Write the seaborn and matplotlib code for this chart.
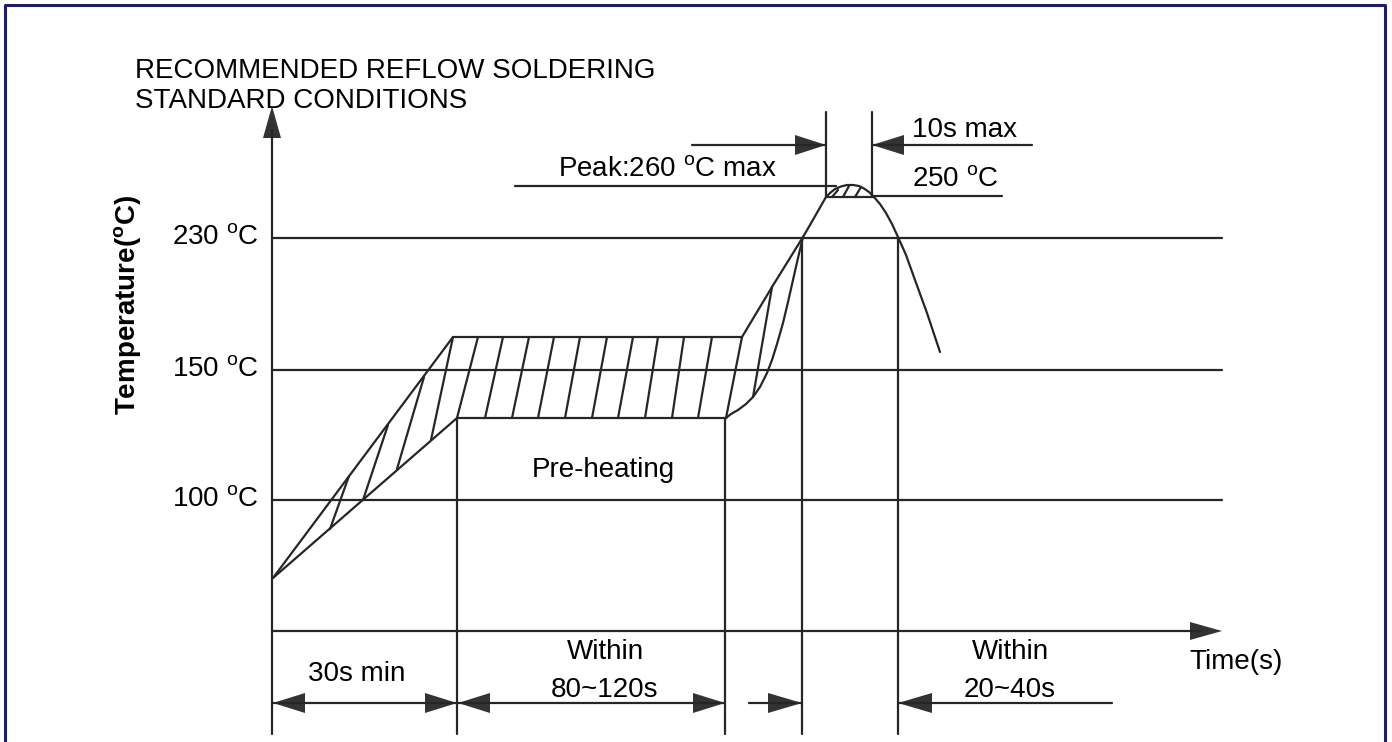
import numpy as np
import pandas as pd
import seaborn as sns
import matplotlib.pyplot as plt

# schematic drawn in picture units (x to the right, y downwards)
level_labels = ["230", "150", "100"]
level_y = [238, 370, 500]

upper_x = [273, 453, 742, 772, 803, 810, 818, 826]
upper_y = [578, 337, 337, 287, 237, 225, 211, 197]
lower_x = [273, 457, 726, 731, 738, 746, 753, 760, 767, 772, 777, 783, 788, 793, 798, 803]
lower_y = [578, 418, 418, 414, 410, 404, 397, 387, 373, 360, 344, 323, 302, 280, 258, 237]
cap_x = [826, 830, 835, 841, 847, 853, 859, 864, 869, 874]
cap_y = [197, 193, 189, 186.5, 185, 185, 186, 188.5, 192, 197]
fall_x = [874, 880, 886, 892, 898, 906, 915, 927, 940]
fall_y = [197, 204, 213, 224, 237, 255, 280, 313, 352]

# hatch strokes (bottom x, bottom y, top x, top y)
ramp_hatch = [(330, 529, 349, 476), (363, 500, 388, 425),
              (397, 469, 424, 377), (431, 440, 453, 337)]
preheat_bottom = [457, 485, 512, 538, 565, 592, 618, 645, 672, 698, 726]
preheat_top = [478, 503, 529, 554, 580, 607, 633, 658, 684, 712, 742]
rise_hatch = [(753, 397, 772, 287)]
cap_hatch = [(832, 197, 838, 190), (843, 197, 849, 186), (855, 197, 861, 187)]

mark_x = [457, 725, 802, 898]
mark_top = [418, 418, 238, 238]

ink = "#262626"
head_col = "#333333"

sns.set_style("white")
plt.rcParams["font.family"] = ["Liberation Sans", "DejaVu Sans"]
plt.rcParams["mathtext.fontset"] = "custom"
plt.rcParams["mathtext.rm"] = "Liberation Sans"
plt.rcParams["mathtext.bf"] = "Liberation Sans:bold"
plt.rcParams["text.color"] = "black"

fig = plt.figure(figsize=(13.92, 7.42), dpi=100)
ax = fig.add_axes([0, 0, 1, 1])

rows = []
def seg(xs, ys):
    k = rows[-1][2] + 1 if rows else 0
    for a, b in zip(xs, ys):
        rows.append((a, b, k))

# axes and guide lines
seg([272, 272], [130, 734])
seg([272, 1200], [631, 631])
for y in level_y:
    seg([272, 1222], [y, y])
for x, t in zip(mark_x, mark_top):
    seg([x, x], [t, 734])
seg([826, 826], [112, 197])
seg([872, 872], [112, 197])

# profile
seg(upper_x, upper_y)
seg(lower_x, lower_y)
seg(cap_x, cap_y)
seg(fall_x, fall_y)
seg([826, 874], [197, 197])
for x0, y0, x1, y1 in ramp_hatch + rise_hatch + cap_hatch:
    seg([x0, x1], [y0, y1])
for b, t in zip(preheat_bottom, preheat_top):
    seg([b, t], [418, 337])

# leader lines
seg([515, 836], [186, 186])
seg([874, 1002], [196, 196])
seg([692, 826], [145, 145])
seg([872, 1032], [145, 145])
seg([273, 457], [703, 703])
seg([458, 725], [703, 703])
seg([749, 802], [703, 703])
seg([898, 1112], [703, 703])

df = pd.DataFrame(rows, columns=["x", "y", "seg"])
sns.lineplot(data=df, x="x", y="y", units="seg", estimator=None, sort=False,
             color=ink, lw=1.6, ax=ax, legend=False)


def head(tx, ty, dx, dy, length=32, half=10):
    bx, by = tx - dx * length, ty - dy * length
    px, py = -dy * half, dx * half
    ax.fill([tx, bx + px, bx - px], [ty, by + py, by - py], color=head_col, lw=0)

head(272, 106, 0, -1, length=32, half=9)
head(1222, 631, 1, 0, length=32, half=9)
head(826, 145, 1, 0, length=31, half=10)
head(872, 145, -1, 0, length=32, half=10)
head(273, 703, -1, 0)
head(457, 703, 1, 0)
head(458, 703, -1, 0)
head(725, 703, 1, 0)
head(802, 703, 1, 0, length=34)
head(898, 703, -1, 0, length=34)

fs = 20
deg = r"$^{\mathregular{o}}$"
ax.text(135, 71, "RECOMMENDED REFLOW SOLDERING", fontsize=fs, va="center")
ax.text(135, 101, "STANDARD CONDITIONS", fontsize=fs, va="center")
for lab, y in zip(level_labels, level_y):
    ax.text(259, y, f"{lab} {deg}C", fontsize=fs, ha="right", va="center")
ax.text(128, 305, f"Temperature({deg}C)", fontsize=fs, fontweight="bold",
        rotation=90, ha="center", va="center")
ax.text(667, 170, f"Peak:260 {deg}C max", fontsize=fs, ha="center", va="center")
ax.text(965, 130, "10s max", fontsize=fs, ha="center", va="center")
ax.text(955, 180, f"250 {deg}C", fontsize=fs, ha="center", va="center")
ax.text(603, 470, "Pre-heating", fontsize=fs, ha="center", va="center")
ax.text(357, 674, "30s min", fontsize=fs, ha="center", va="center")
ax.text(605, 652, "Within", fontsize=fs, ha="center", va="center")
ax.text(605, 690, "80~120s", fontsize=fs, ha="center", va="center")
ax.text(1010, 652, "Within", fontsize=fs, ha="center", va="center")
ax.text(1010, 690, "20~40s", fontsize=fs, ha="center", va="center")
ax.text(1236, 662, "Time(s)", fontsize=fs, ha="center", va="center")

# frame
frame = "#1c1c7c"
ax.plot([5, 5, 1385, 1385], [742, 5, 5, 742], color=frame, lw=2.2)

ax.set_xlim(0, 1392)
ax.set_ylim(742, 0)
ax.axis("off")
fig.savefig("out.png", dpi=100)
